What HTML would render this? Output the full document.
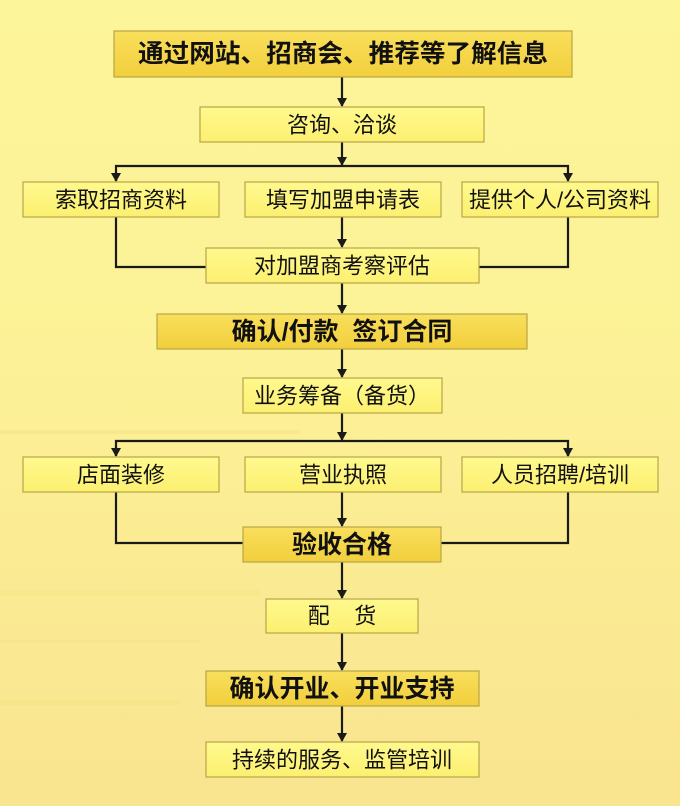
<!DOCTYPE html>
<html><head><meta charset="utf-8"><style>
html,body{margin:0;padding:0;}
body{width:680px;height:806px;overflow:hidden;background:linear-gradient(180deg,#fdf59a 0%,#fcf196 45%,#f9e490 100%);}
svg{display:block}
text{font-family:"Liberation Sans","Noto Sans CJK SC",sans-serif;fill:#111;text-anchor:middle;dominant-baseline:central;}
.b{font-weight:bold;font-size:25px}
.n{font-size:22px}
</style></head><body>
<svg width="680" height="806" xmlns="http://www.w3.org/2000/svg">
<defs>
<linearGradient id="gold" x1="0" y1="0" x2="0" y2="1"><stop offset="0" stop-color="#f9df5c"/><stop offset="1" stop-color="#f2cf3c"/></linearGradient>
<linearGradient id="lt" x1="0" y1="0" x2="0" y2="1"><stop offset="0" stop-color="#fff98e"/><stop offset="1" stop-color="#fcf070"/></linearGradient>
<marker id="d" markerWidth="10" markerHeight="9" refX="5" refY="8" orient="0" markerUnits="userSpaceOnUse"><path d="M0,0 L10,0 L5,9 Z" fill="#1a1a1a"/></marker>
</defs>
<g fill="#f6e488" opacity="0.5">
<rect x="0" y="430" width="300" height="4"/><rect x="0" y="590" width="260" height="6"/><rect x="0" y="640" width="200" height="3"/><rect x="0" y="700" width="180" height="5"/>
</g>
<g stroke="#1a1a1a" stroke-width="2.2" fill="none">
<line x1="342" y1="77" x2="342" y2="106" marker-end="url(#d)"/>
<line x1="342" y1="142" x2="342" y2="165" marker-end="url(#d)"/>
<polyline points="116,181 116,166 568,166 568,181"/>
<line x1="116" y1="172" x2="116" y2="181" marker-end="url(#d)"/>
<line x1="568" y1="172" x2="568" y2="181" marker-end="url(#d)"/>
<line x1="342" y1="217" x2="342" y2="247" marker-end="url(#d)"/>
<polyline points="116,217 116,267 210,267"/>
<polyline points="568,217 568,267 475,267"/>
<line x1="342" y1="283" x2="342" y2="313" marker-end="url(#d)"/>
<line x1="342" y1="349" x2="342" y2="377" marker-end="url(#d)"/>
<line x1="342" y1="413" x2="342" y2="440" marker-end="url(#d)"/>
<polyline points="116,456 116,441 568,441 568,456"/>
<line x1="116" y1="447" x2="116" y2="456" marker-end="url(#d)"/>
<line x1="568" y1="447" x2="568" y2="456" marker-end="url(#d)"/>
<line x1="342" y1="492" x2="342" y2="526" marker-end="url(#d)"/>
<polyline points="116,492 116,543 245,543"/>
<polyline points="568,492 568,543 440,543"/>
<line x1="342" y1="562" x2="342" y2="598" marker-end="url(#d)"/>
<line x1="342" y1="633" x2="342" y2="670" marker-end="url(#d)"/>
<line x1="342" y1="706" x2="342" y2="741" marker-end="url(#d)"/>
</g>
<g stroke="#b8a548" stroke-width="1.2">
<rect x="114" y="31" width="458" height="46" fill="url(#gold)"/>
<rect x="200" y="107" width="284" height="35" fill="url(#lt)"/>
<rect x="23" y="182" width="196" height="35" fill="url(#lt)"/>
<rect x="245" y="182" width="196" height="35" fill="url(#lt)"/>
<rect x="462" y="182" width="196" height="35" fill="url(#lt)"/>
<rect x="206" y="248" width="273" height="35" fill="url(#lt)"/>
<rect x="157" y="314" width="370" height="35" fill="url(#gold)"/>
<rect x="243" y="378" width="199" height="35" fill="url(#lt)"/>
<rect x="23" y="457" width="196" height="35" fill="url(#lt)"/>
<rect x="245" y="457" width="196" height="35" fill="url(#lt)"/>
<rect x="462" y="457" width="196" height="35" fill="url(#lt)"/>
<rect x="243" y="527" width="198" height="35" fill="url(#gold)"/>
<rect x="266" y="599" width="152" height="34" fill="url(#lt)"/>
<rect x="206" y="671" width="273" height="35" fill="url(#gold)"/>
<rect x="206" y="742" width="273" height="35" fill="url(#lt)"/>
</g>
<text class="b" x="343" y="54" textLength="410" lengthAdjust="spacingAndGlyphs">通过网站、招商会、推荐等了解信息</text>
<text class="n" x="342" y="125">咨询、洽谈</text>
<text class="n" x="121" y="200">索取招商资料</text>
<text class="n" x="343" y="200">填写加盟申请表</text>
<text class="n" x="560" y="200" textLength="182" lengthAdjust="spacingAndGlyphs">提供个人/公司资料</text>
<text class="n" x="342" y="266">对加盟商考察评估</text>
<text class="b" x="342" y="332">确认/付款&#160;&#160;签订合同</text>
<text class="n" x="342" y="396">业务筹备（备货）</text>
<text class="n" x="121" y="475">店面装修</text>
<text class="n" x="343" y="475">营业执照</text>
<text class="n" x="560" y="475">人员招聘/培训</text>
<text class="b" x="342" y="545">验收合格</text>
<text class="n" x="342" y="616">配&#160;&#160;&#160;&#160;货</text>
<text class="b" x="342" y="689">确认开业、开业支持</text>
<text class="n" x="342" y="760">持续的服务、监管培训</text>
</svg>
</body></html>
